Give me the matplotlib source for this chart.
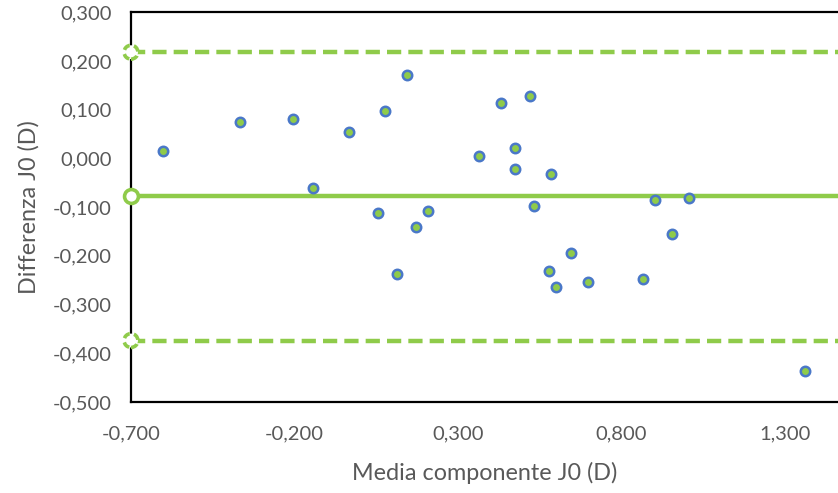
import matplotlib
matplotlib.use("Agg")
import matplotlib.pyplot as plt
from matplotlib.ticker import MultipleLocator, FuncFormatter

# Bland-Altman data: mean of the two J0 measurements and their difference (D)
media_j0 = [-0.601, -0.367, -0.205, -0.144, -0.033, 0.054, 0.077, 0.113, 0.143,
            0.172, 0.209, 0.364, 0.431, 0.474, 0.474, 0.520, 0.533, 0.578,
            0.585, 0.600, 0.645, 0.697, 0.867, 0.903, 0.954, 1.007, 1.361]
diff_j0 = [0.015, 0.075, 0.081, -0.060, 0.054, -0.113, 0.097, -0.237, 0.171,
           -0.140, -0.108, 0.004, 0.113, 0.021, -0.022, 0.129, -0.097, -0.231,
           -0.033, -0.264, -0.194, -0.253, -0.248, -0.086, -0.156, -0.081, -0.436]

bias = -0.078
loa_upper = 0.218
loa_lower = -0.374

x_min = -0.700
x_tick_step = 0.5
y_limits = (-0.5, 0.3)

green = "#8FCB4A"
blue = "#4A78C8"
text_grey = "#595959"

plt.rcParams["font.family"] = ["Lato", "DejaVu Sans"]

fig = plt.figure(figsize=(8.38, 4.93), dpi=100)
ax = fig.add_axes([0.1563, 0.1848, 0.8437, 0.7903])

x_max = x_min + (838 - 131) / 327.0
ax.set_xlim(x_min, x_max)
ax.set_ylim(*y_limits)

# bias and limits of agreement
ax.plot([x_min, x_max], [bias, bias], color=green, lw=3.2, solid_capstyle="butt", zorder=2)
for lim in (loa_upper, loa_lower):
    ax.plot([x_min, x_max], [lim, lim], color=green, lw=3.2,
            dashes=(3.2, 1.6), zorder=2)

# end markers on the left axis
ax.scatter([x_min], [bias], s=100, facecolor="white", edgecolor=green,
           linewidth=2.6, zorder=4, clip_on=False)
ax.scatter([x_min, x_min], [loa_upper, loa_lower], s=100, facecolor="white",
           edgecolor=green, linewidth=2.6, linestyle=(0, (2.0, 1.2)),
           zorder=4, clip_on=False)

# data points
ax.scatter(media_j0, diff_j0, s=46, facecolor=green, edgecolor=blue,
           linewidth=1.8, zorder=5, clip_on=False)

ax.set_xticks([x_min + i * x_tick_step for i in range(5)])
ax.yaxis.set_major_locator(MultipleLocator(0.1))

fmt = FuncFormatter(lambda v, p: f"{v:.3f}".replace(".", ",").replace("-0,000", "0,000"))
ax.xaxis.set_major_formatter(fmt)
ax.yaxis.set_major_formatter(fmt)

ax.tick_params(axis="both", length=0, labelsize=14.5, labelcolor=text_grey)
ax.tick_params(axis="x", pad=17)
ax.tick_params(axis="y", pad=14)

for side in ("left", "bottom", "top"):
    ax.spines[side].set_color("black")
    ax.spines[side].set_linewidth(1.6)
ax.spines["right"].set_visible(False)

ax.set_xlabel("Media componente J0 (D)", fontsize=16.8, color=text_grey, labelpad=14)
ax.set_ylabel("Differenza J0 (D)", fontsize=16.8, color=text_grey, labelpad=9)

fig.savefig("out.png", dpi=100)
